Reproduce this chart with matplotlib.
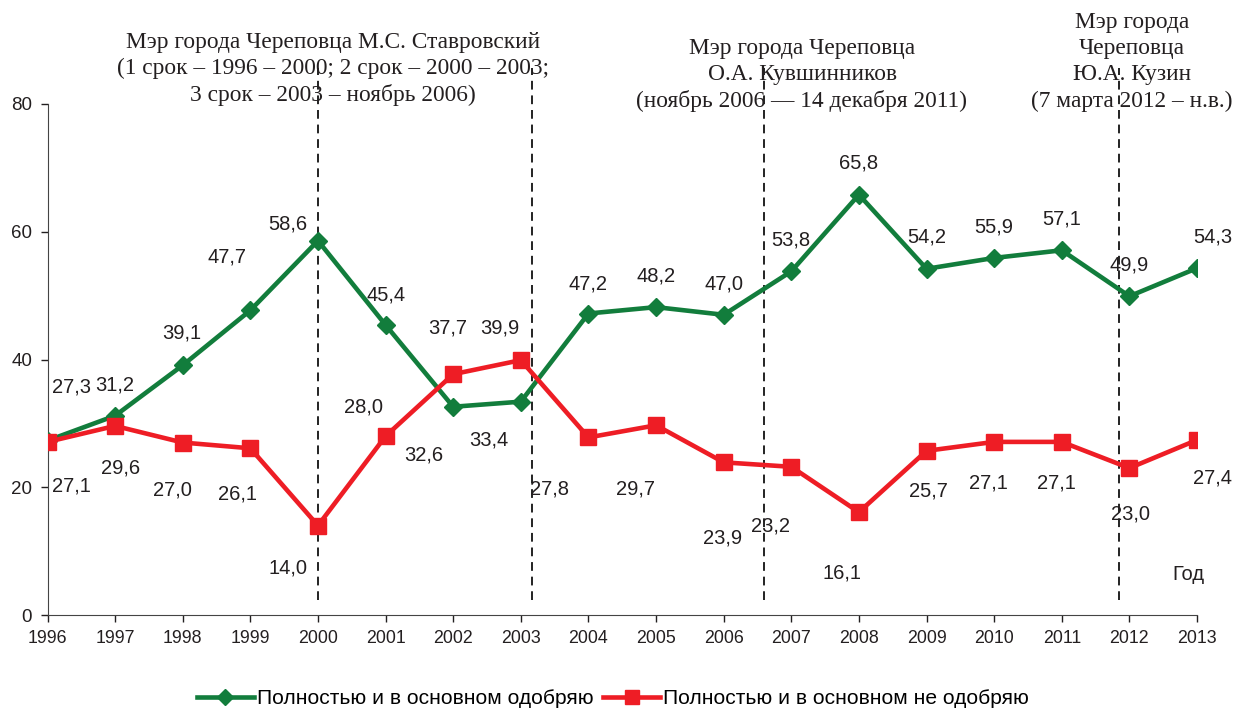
import matplotlib
matplotlib.use("Agg")
import matplotlib.pyplot as plt

years = list(range(1996, 2014))
approve = [27.3, 31.2, 39.1, 47.7, 58.6, 45.4, 32.6, 33.4, 47.2, 48.2, 47.0,
           53.8, 65.8, 54.2, 55.9, 57.1, 49.9, 54.3]
disapprove = [27.1, 29.6, 27.0, 26.1, 14.0, 28.0, 37.7, 39.9, 27.8, 29.7, 23.9,
              23.2, 16.1, 25.7, 27.1, 27.1, 23.0, 27.4]
series_names = ["Полностью и в основном одобряю", "Полностью и в основном не одобряю"]

# mayor terms: boundary positions (fractional years) and captions
term_bounds = [2000.0, 2003.16, 2006.6, 2011.84]
mayor_texts = [
    "Мэр города Череповца М.С. Ставровский\n(1 срок – 1996 – 2000; 2 срок – 2000 – 2003;\n3 срок – 2003 – ноябрь 2006)",
    "Мэр города Череповца\nО.А. Кувшинников\n(ноябрь 2006 — 14 декабря 2011)",
    "Мэр города\nЧереповца\nЮ.А. Кузин\n(7 марта 2012 – н.в.)",
]

# label offsets in pixels (dx, dy) -- just placement, mimics the hand-moved labels
green_off = [(24, 54), (0, 31), (-1, 32), (-23, 53), (-30, 17), (0, 30), (-29, -48),
             (-32, -38), (0, 30), (0, 31), (0, 31), (0, 31), (0, 32), (0, 32),
             (0, 31), (0, 31), (0, 31), (16, 31)]
red_off = [(24, -44), (5, -42), (-10, -47), (-13, -46), (-30, -42), (-22, 29), (-6, 46),
           (-21, 32), (-39, -52), (-21, -64), (-1, -76), (-21, -59), (-17, -61),
           (2, -40), (-6, -41), (-5, -41), (1, -46), (16, -38)]

GREEN = "#127d3c"
RED = "#ee1d25"
sans = ["Liberation Sans", "DejaVu Sans"]
serif = ["Liberation Serif", "DejaVu Serif"]

fig = plt.figure(figsize=(12.36, 7.08), dpi=100)
ax = fig.add_axes([47.5 / 1236, 93 / 708, (1197 - 47.5) / 1236, 511 / 708])

for x in term_bounds:
    ax.plot([x, x], [2.4, 85.6], color="#222222", lw=1.4, ls=(0, (4.5, 3)),
            clip_on=False, zorder=1)

ax.plot(years, approve, color=GREEN, lw=3.3, marker="D", ms=9,
        label=series_names[0], zorder=3)
ax.plot(years, disapprove, color=RED, lw=3.3, marker="s", ms=12,
        label=series_names[1], zorder=3)

for x, v, off in zip(years, approve, green_off):
    ax.annotate(f"{v:.1f}".replace(".", ","), (x, v), xytext=off,
                textcoords="offset pixels", ha="center", va="center",
                fontsize=14.5, family=sans, color="#231f20")
for x, v, off in zip(years, disapprove, red_off):
    ax.annotate(f"{v:.1f}".replace(".", ","), (x, v), xytext=off,
                textcoords="offset pixels", ha="center", va="center",
                fontsize=14.5, family=sans, color="#231f20")

ax.set_xlim(1996, 2013)
ax.set_ylim(0, 80)
ax.set_xticks(years)
ax.set_yticks([0, 20, 40, 60, 80])
ax.tick_params(axis="x", labelsize=12.8, length=5, width=1, pad=6, colors="#231f20")
ax.tick_params(axis="y", labelsize=13.5, length=5, width=1, pad=6, colors="#231f20")
for lab in ax.get_xticklabels() + ax.get_yticklabels():
    lab.set_family(sans)
for s in ["top", "right"]:
    ax.spines[s].set_visible(False)
for s in ["left", "bottom"]:
    ax.spines[s].set_color("#444444")

fig.text(1188 / 1236, 1 - 575 / 708, "Год", ha="center", va="center",
         fontsize=14.5, family=sans, color="#231f20")

# mayor captions
fig.text(333 / 1236, 1 - 69 / 708, mayor_texts[0], ha="center", va="center",
         fontsize=16.8, family=serif, linespacing=1.32, color="#231f20")
fig.text(802 / 1236, 1 - 75 / 708, mayor_texts[1], ha="center", va="center",
         fontsize=16.8, family=serif, linespacing=1.32, color="#231f20")
fig.text(1132 / 1236, 1 - 62 / 708, mayor_texts[2], ha="center", va="center",
         fontsize=16.8, family=serif, linespacing=1.32, color="#231f20")

leg = fig.legend(loc="center", bbox_to_anchor=(613 / 1236, 1 - 699 / 708), ncol=2,
                 frameon=False, prop={"family": sans, "size": 15.1},
                 handlelength=2.72, handletextpad=0.15, columnspacing=0.45,
                 markerscale=0.85, borderpad=0)

fig.savefig("out.png", dpi=100)
